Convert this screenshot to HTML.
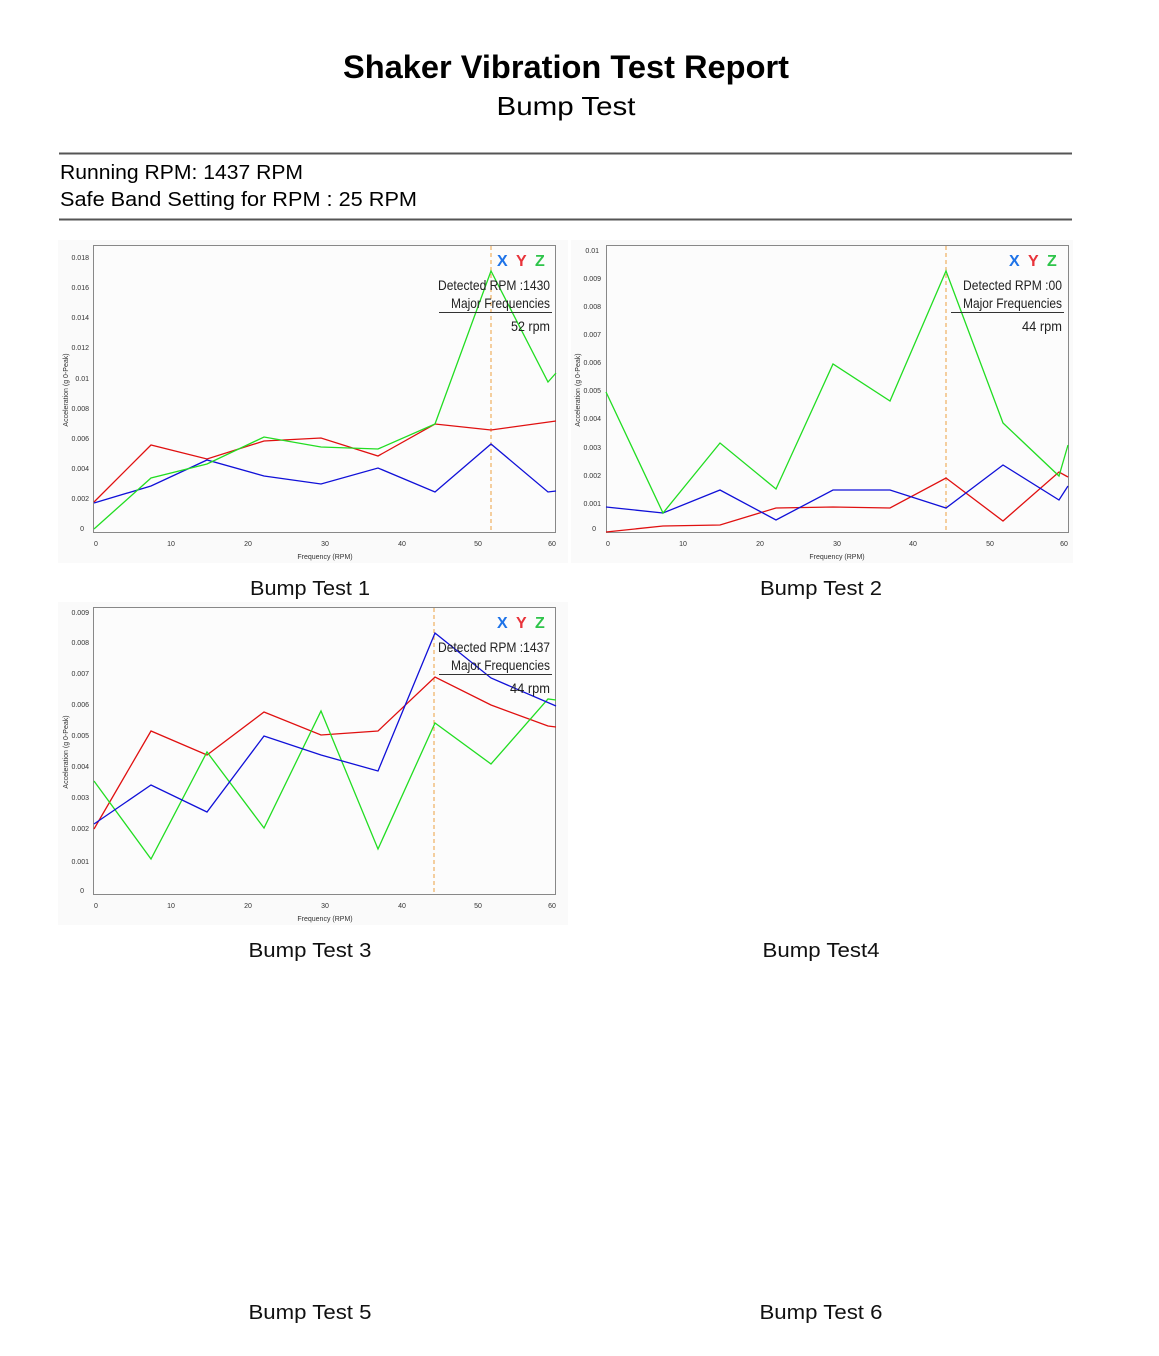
<!DOCTYPE html>
<html><head><meta charset="utf-8"><style>
html,body{margin:0;padding:0;background:#fff;}
svg{display:block;}
text{font-family:"Liberation Sans",sans-serif;}
.yt{font-size:7px;fill:#333;text-anchor:end;}
.xt{font-size:7px;fill:#333;text-anchor:middle;}
.ax{font-size:7px;fill:#333;}
.lg{font-size:16px;font-weight:bold;}
.dt{font-size:14px;fill:#222;text-anchor:end;}
.cap{font-size:20px;fill:#111;text-anchor:middle;}
.s{fill:none;stroke-width:1.3;}
</style></head><body>
<svg width="1159" height="1356" viewBox="0 0 1159 1356" xmlns="http://www.w3.org/2000/svg">
<text x="566" y="78" text-anchor="middle" font-size="32" font-weight="bold" fill="#000" textLength="446" lengthAdjust="spacingAndGlyphs">Shaker Vibration Test Report</text>
<text x="566" y="115" text-anchor="middle" font-size="26" fill="#000" textLength="139" lengthAdjust="spacingAndGlyphs">Bump Test</text>
<line x1="59" y1="153.5" x2="1072" y2="153.5" stroke="#555" stroke-width="2"/>
<text x="60" y="179" font-size="20" fill="#000" textLength="243" lengthAdjust="spacingAndGlyphs">Running RPM: 1437 RPM</text>
<text x="60" y="206" font-size="20" fill="#000" textLength="357" lengthAdjust="spacingAndGlyphs">Safe Band Setting for RPM : 25 RPM</text>
<line x1="59" y1="219.5" x2="1072" y2="219.5" stroke="#555" stroke-width="2"/>

<!-- Chart 1 -->
<rect x="58" y="240" width="510" height="323" fill="#fafafa"/>
<rect x="93.5" y="245.5" width="462" height="287" fill="#fcfcfc" stroke="#888" stroke-width="1"/>
<g>
<text class="yt" x="89" y="260">0.018</text><text class="yt" x="89" y="290">0.016</text><text class="yt" x="89" y="320">0.014</text><text class="yt" x="89" y="350">0.012</text><text class="yt" x="89" y="381">0.01</text><text class="yt" x="89" y="411">0.008</text><text class="yt" x="89" y="441">0.006</text><text class="yt" x="89" y="471">0.004</text><text class="yt" x="89" y="501">0.002</text><text class="yt" x="84" y="531">0</text>
<text class="xt" x="96" y="546">0</text><text class="xt" x="171" y="546">10</text><text class="xt" x="248" y="546">20</text><text class="xt" x="325" y="546">30</text><text class="xt" x="402" y="546">40</text><text class="xt" x="478" y="546">50</text><text class="xt" x="552" y="546">60</text>
<text class="xt" x="325" y="559">Frequency (RPM)</text>
<text class="ax" transform="translate(68,390) rotate(-90)" text-anchor="middle">Acceleration (g 0-Peak)</text>
</g>
<line x1="491" y1="246" x2="491" y2="532" stroke="#f0b060" stroke-width="1.2" stroke-dasharray="4,3"/>
<polyline class="s" stroke="#e01010" points="94,502 151,445 207,459 264,441 321,438 378,456 435,424 491,430 556,421"/>
<polyline class="s" stroke="#1010d8" points="94,503 151,486 207,460 264,476 321,484 378,468 435,492 491,444 548,492 556,491"/>
<polyline class="s" stroke="#22dd22" points="94,529 151,478 207,464 264,437 321,447 378,449 435,424 491,271 548,382 556,373"/>
<text class="lg" x="497" y="266" fill="#1e73e8">X</text><text class="lg" x="516" y="266" fill="#e8333a">Y</text><text class="lg" x="535" y="266" fill="#2ec44a">Z</text>
<text class="dt" x="550" y="290" textLength="112" lengthAdjust="spacingAndGlyphs">Detected RPM :1430</text>
<text class="dt" x="550" y="308" textLength="99" lengthAdjust="spacingAndGlyphs">Major Frequencies</text>
<line x1="439" y1="312.5" x2="552" y2="312.5" stroke="#333" stroke-width="1"/>
<text class="dt" x="550" y="331" textLength="39" lengthAdjust="spacingAndGlyphs">52 rpm</text>
<text class="cap" x="310" y="595" textLength="120" lengthAdjust="spacingAndGlyphs">Bump Test 1</text>

<!-- Chart 2 -->
<rect x="571" y="240" width="502" height="323" fill="#fafafa"/>
<rect x="606.5" y="245.5" width="462" height="287" fill="#fcfcfc" stroke="#888" stroke-width="1"/>
<g>
<text class="yt" x="599" y="253">0.01</text><text class="yt" x="601" y="281">0.009</text><text class="yt" x="601" y="309">0.008</text><text class="yt" x="601" y="337">0.007</text><text class="yt" x="601" y="365">0.006</text><text class="yt" x="601" y="393">0.005</text><text class="yt" x="601" y="421">0.004</text><text class="yt" x="601" y="450">0.003</text><text class="yt" x="601" y="478">0.002</text><text class="yt" x="601" y="506">0.001</text><text class="yt" x="596" y="531">0</text>
<text class="xt" x="608" y="546">0</text><text class="xt" x="683" y="546">10</text><text class="xt" x="760" y="546">20</text><text class="xt" x="837" y="546">30</text><text class="xt" x="913" y="546">40</text><text class="xt" x="990" y="546">50</text><text class="xt" x="1064" y="546">60</text>
<text class="xt" x="837" y="559">Frequency (RPM)</text>
<text class="ax" transform="translate(580,390) rotate(-90)" text-anchor="middle">Acceleration (g 0-Peak)</text>
</g>
<line x1="946" y1="246" x2="946" y2="532" stroke="#f0b060" stroke-width="1.2" stroke-dasharray="4,3"/>
<polyline class="s" stroke="#e01010" points="606,532 663,526 720,525 776,508 833,507 890,508 946,478 1003,521 1059,472 1068,477"/>
<polyline class="s" stroke="#1010d8" points="606,507 663,513 720,490 776,520 833,490 890,490 946,508 1003,465 1059,500 1068,486"/>
<polyline class="s" stroke="#22dd22" points="606,392 663,513 720,443 776,489 833,364 890,401 946,271 1003,423 1059,476 1068,445"/>
<text class="lg" x="1009" y="266" fill="#1e73e8">X</text><text class="lg" x="1028" y="266" fill="#e8333a">Y</text><text class="lg" x="1047" y="266" fill="#2ec44a">Z</text>
<text class="dt" x="1062" y="290" textLength="99" lengthAdjust="spacingAndGlyphs">Detected RPM :00</text>
<text class="dt" x="1062" y="308" textLength="99" lengthAdjust="spacingAndGlyphs">Major Frequencies</text>
<line x1="951" y1="312.5" x2="1064" y2="312.5" stroke="#333" stroke-width="1"/>
<text class="dt" x="1062" y="331" textLength="40" lengthAdjust="spacingAndGlyphs">44 rpm</text>
<text class="cap" x="821" y="595" textLength="122" lengthAdjust="spacingAndGlyphs">Bump Test 2</text>

<!-- Chart 3 -->
<rect x="58" y="602" width="510" height="323" fill="#fafafa"/>
<rect x="93.5" y="607.5" width="462" height="287" fill="#fcfcfc" stroke="#888" stroke-width="1"/>
<g>
<text class="yt" x="89" y="615">0.009</text><text class="yt" x="89" y="645">0.008</text><text class="yt" x="89" y="676">0.007</text><text class="yt" x="89" y="707">0.006</text><text class="yt" x="89" y="738">0.005</text><text class="yt" x="89" y="769">0.004</text><text class="yt" x="89" y="800">0.003</text><text class="yt" x="89" y="831">0.002</text><text class="yt" x="89" y="864">0.001</text><text class="yt" x="84" y="893">0</text>
<text class="xt" x="96" y="908">0</text><text class="xt" x="171" y="908">10</text><text class="xt" x="248" y="908">20</text><text class="xt" x="325" y="908">30</text><text class="xt" x="402" y="908">40</text><text class="xt" x="478" y="908">50</text><text class="xt" x="552" y="908">60</text>
<text class="xt" x="325" y="921">Frequency (RPM)</text>
<text class="ax" transform="translate(68,752) rotate(-90)" text-anchor="middle">Acceleration (g 0-Peak)</text>
</g>
<line x1="434" y1="608" x2="434" y2="894" stroke="#f0b060" stroke-width="1.2" stroke-dasharray="4,3"/>
<polyline class="s" stroke="#e01010" points="94,829 151,731 207,755 264,712 321,735 378,731 435,677 491,705 548,726 556,727"/>
<polyline class="s" stroke="#22dd22" points="94,781 151,859 207,752 264,828 321,711 378,849 435,723 491,764 548,699 556,700"/>
<polyline class="s" stroke="#1010d8" points="94,824 151,785 207,812 264,736 321,755 378,771 435,633 491,678 556,706"/>
<text class="lg" x="497" y="628" fill="#1e73e8">X</text><text class="lg" x="516" y="628" fill="#e8333a">Y</text><text class="lg" x="535" y="628" fill="#2ec44a">Z</text>
<text class="dt" x="550" y="652" textLength="112" lengthAdjust="spacingAndGlyphs">Detected RPM :1437</text>
<text class="dt" x="550" y="670" textLength="99" lengthAdjust="spacingAndGlyphs">Major Frequencies</text>
<line x1="439" y1="674.5" x2="552" y2="674.5" stroke="#333" stroke-width="1"/>
<text class="dt" x="550" y="693" textLength="40" lengthAdjust="spacingAndGlyphs">44 rpm</text>
<text class="cap" x="310" y="957" textLength="123" lengthAdjust="spacingAndGlyphs">Bump Test 3</text>

<text class="cap" x="821" y="957" textLength="117" lengthAdjust="spacingAndGlyphs">Bump Test4</text>
<text class="cap" x="310" y="1319" textLength="123" lengthAdjust="spacingAndGlyphs">Bump Test 5</text>
<text class="cap" x="821" y="1319" textLength="123" lengthAdjust="spacingAndGlyphs">Bump Test 6</text>
</svg>
</body></html>
